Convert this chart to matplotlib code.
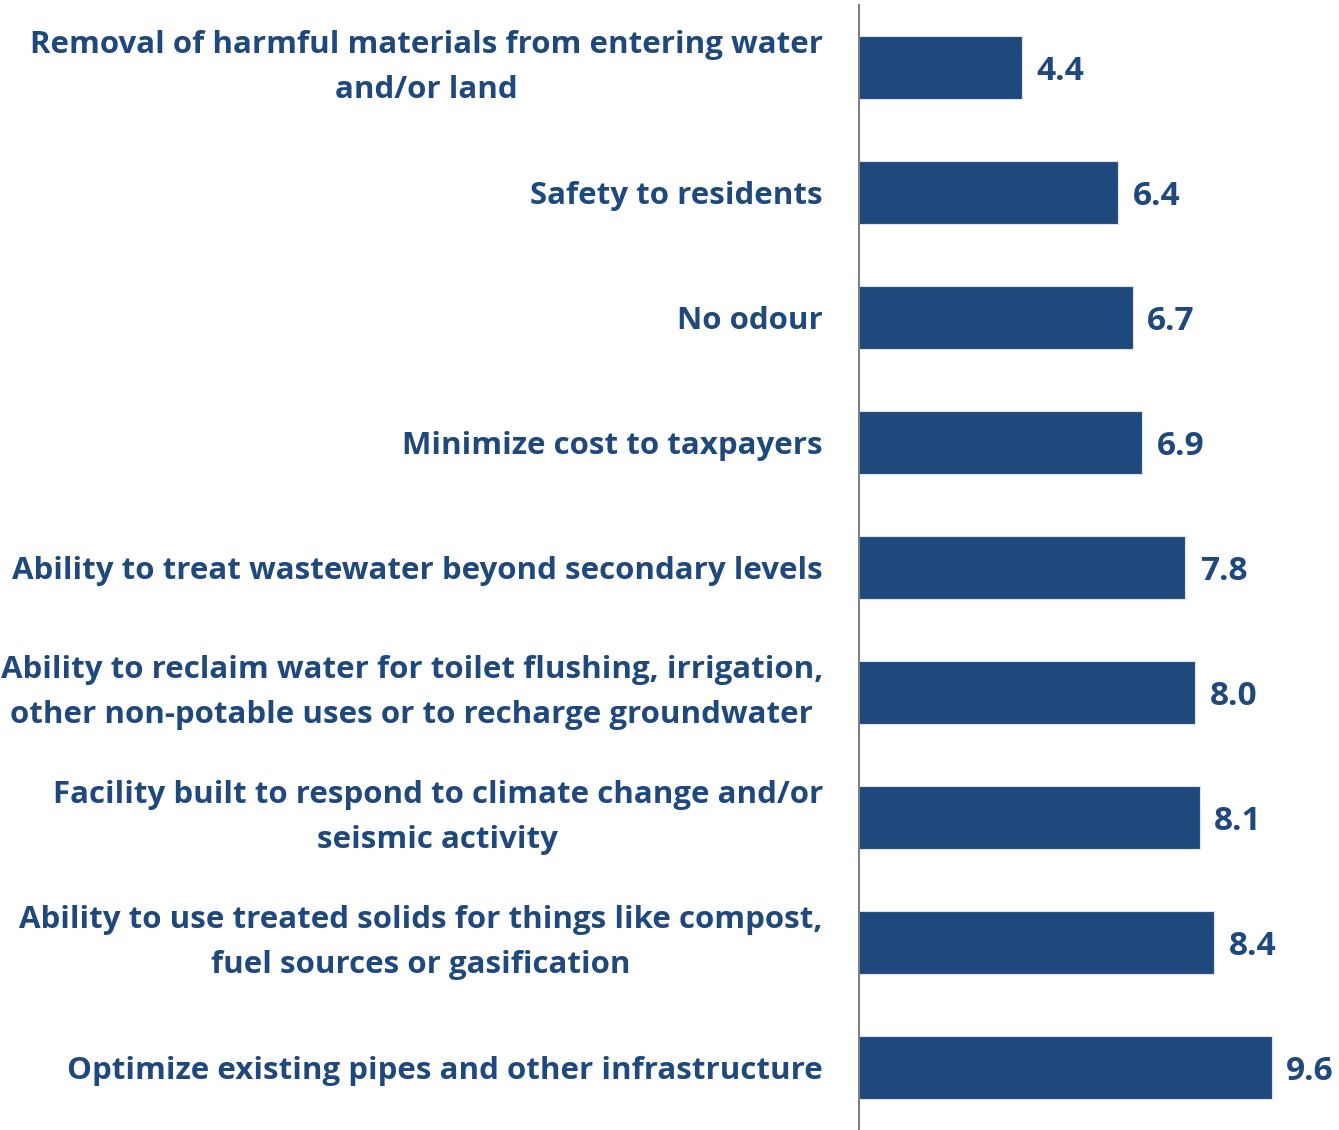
import matplotlib.pyplot as plt

# datos del grafico (de arriba hacia abajo)
categorias = [
    "Removal of harmful materials from entering water\nand/or land",
    "Safety to residents",
    "No odour",
    "Minimize cost to taxpayers",
    "Ability to treat wastewater beyond secondary levels",
    "Ability to reclaim water for toilet flushing, irrigation,\nother non-potable uses or to recharge groundwater",
    "Facility built to respond to climate change and/or\nseismic activity",
    "Ability to use treated solids for things like compost,\nfuel sources or gasification",
    "Optimize existing pipes and other infrastructure",
]
valores = [4.4, 6.4, 6.7, 6.9, 7.8, 8.0, 8.1, 8.4, 9.6]

azul = "#1F497D"
plt.rcParams['font.family'] = ['Open Sans', 'DejaVu Sans']

fig = plt.figure(figsize=(13.39, 11.30), dpi=100)
ax = fig.add_axes([859 / 1339, 0.0, 1 - 859 / 1339, 1 - 5 / 1130])

pos = list(range(len(valores)))
ax.barh(pos, valores, height=0.5, color=azul, edgecolor="#DCE3EE", linewidth=0.8)

for p, v in zip(pos, valores):
    ax.text(v + 0.3, p, f"{v:.1f}", va="center_baseline", ha="left",
            fontsize=24, fontweight="bold", color=azul)

ax.set_xlim(1, 11)
ax.set_ylim(len(valores) - 0.5, -0.5)

ax.set_yticks(pos)
ax.set_yticklabels(categorias, fontsize=22.5, fontweight="bold", color=azul,
                   multialignment="center", linespacing=1.62)
# las etiquetas de dos lineas se centran en la barra
for etiqueta in ax.get_yticklabels():
    if "\n" in etiqueta.get_text():
        etiqueta.set_va("center")
ax.tick_params(axis="y", length=0, pad=26)
ax.set_xticks([])

for lado in ["top", "right", "bottom"]:
    ax.spines[lado].set_visible(False)
ax.spines["left"].set_color("#808080")
ax.spines["left"].set_linewidth(1.5)

fig.savefig("out.png", dpi=100)
